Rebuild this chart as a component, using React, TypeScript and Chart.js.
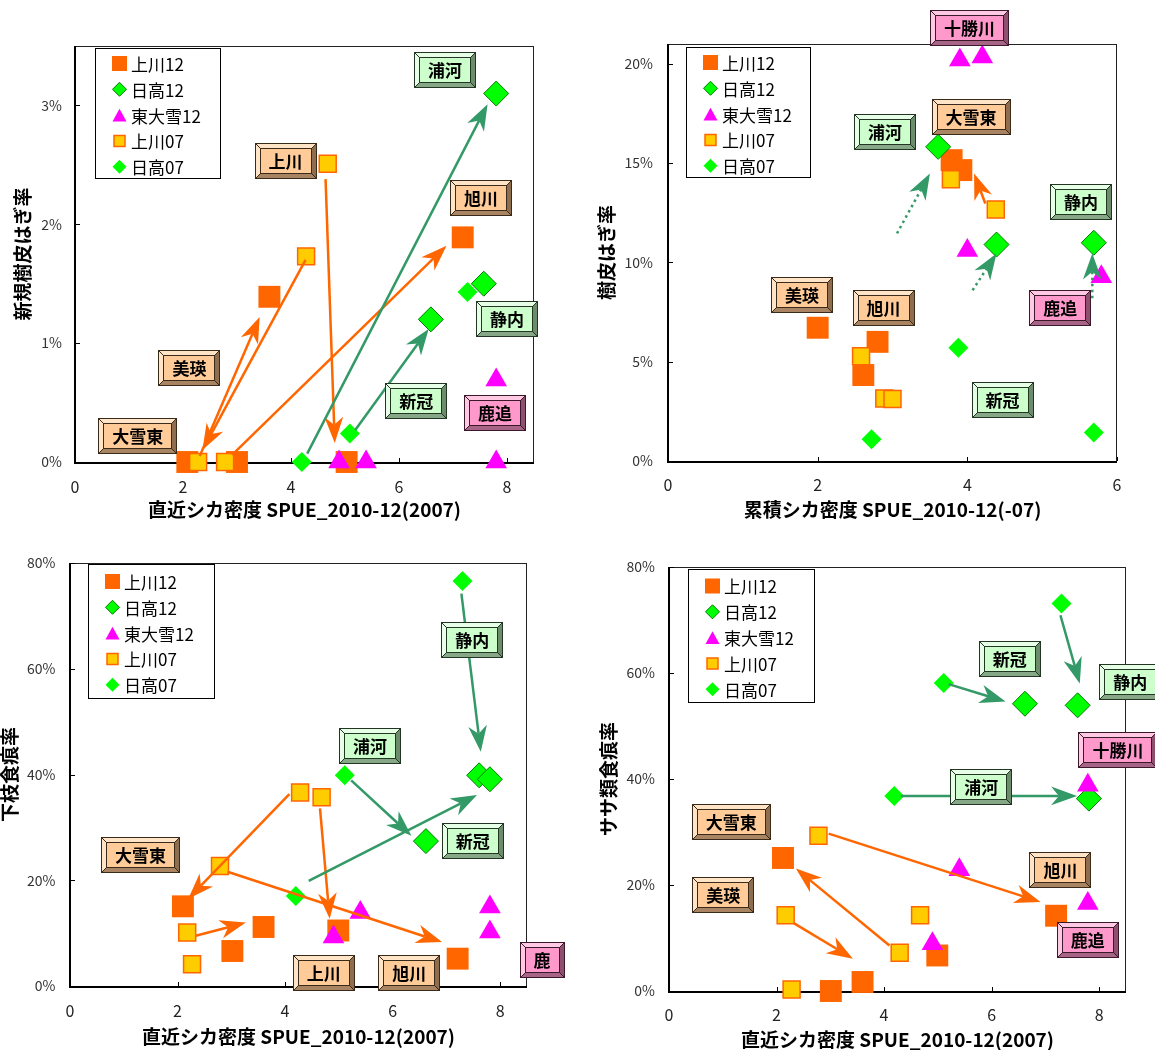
import React, { useEffect, useRef } from 'react';
import { Chart, registerables } from 'chart.js';

Chart.register(...registerables);

const FONT = "'Noto Sans CJK JP', 'Noto Sans', sans-serif";

type XY = [number, number];
type Seg = [number, number, number, number];
type Label = [string, 'o' | 'g' | 'p', number, number];

// ---------- series names ----------
const SERIES_NAMES = ['上川12', '日高12', '東大雪12', '上川07', '日高07'];

// ---------- ticks ----------
const X_TICKS_8 = [0, 2, 4, 6, 8];
const X_TICKS_6 = [0, 2, 4, 6];
const A_Y_TICKS = [0, 1, 2, 3];
const B_Y_TICKS = [0, 5, 10, 15, 20];
const CD_Y_TICKS = [0, 20, 40, 60, 80];

// ---------- Panel A : 新規樹皮はぎ率 (%) ----------
const A_KAMIKAWA12: XY[] = [[2.08, 0], [3.0, 0], [3.6, 1.39], [5.03, 0], [7.18, 1.89]];
const A_HIDAKA12: XY[] = [[7.8, 3.1], [7.57, 1.5], [6.59, 1.2]];
const A_HTAISETSU12: XY[] = [[4.89, 0], [5.39, 0], [7.8, 0.69], [7.8, 0]];
const A_KAMIKAWA07: XY[] = [[2.28, 0], [2.78, 0], [4.28, 1.73], [4.68, 2.51]];
const A_HIDAKA07: XY[] = [[4.2, 0], [5.09, 0.24], [7.27, 1.43]];
const A_ORANGE_ARROWS: Seg[] = [[4.64, 2.38, 4.81, 0.16], [4.27, 1.7, 2.36, 0.1], [2.31, 0.05, 3.42, 1.22], [2.91, 0.06, 6.88, 1.82]];
const A_GREEN_ARROWS: Seg[] = [[4.3, 0.07, 7.64, 3.01], [5.19, 0.27, 6.55, 1.12]];
const A_LABELS: Label[] = [
  ['浦河', 'g', 6.85, 3.3], ['上川', 'o', 3.9, 2.53], ['旭川', 'o', 7.52, 2.22], ['静内', 'g', 8.0, 1.2],
  ['美瑛', 'o', 2.12, 0.79], ['新冠', 'g', 6.32, 0.51], ['鹿追', 'p', 7.78, 0.41], ['大雪東', 'o', 1.16, 0.22],
];

// ---------- Panel B : 樹皮はぎ率 (%) ----------
const B_KAMIKAWA12: XY[] = [[3.79, 15.15], [3.92, 14.65], [2.0, 6.71], [2.8, 6.0], [2.61, 4.33]];
const B_HIDAKA12: XY[] = [[3.61, 15.82], [4.39, 10.9], [5.69, 10.99]];
const B_HTAISETSU12: XY[] = [[3.9, 20.2], [4.2, 20.35], [4.0, 10.6], [5.79, 9.28]];
const B_KAMIKAWA07: XY[] = [[3.78, 14.19], [4.38, 12.67], [2.58, 5.28], [2.89, 3.15], [3.0, 3.12]];
const B_HIDAKA07: XY[] = [[3.88, 5.7], [2.72, 1.1], [5.69, 1.44]];
const B_ORANGE_ARROWS: Seg[] = [[4.24, 12.97, 4.09, 14.48]];
const B_GREEN_DOTTED_ARROWS: Seg[] = [[3.06, 11.46, 3.5, 14.48], [4.07, 8.6, 4.39, 10.45], [5.67, 8.19, 5.67, 10.45]];
const B_LABELS: Label[] = [
  ['十勝川', 'p', 4.03, 21.8], ['大雪東', 'o', 4.05, 17.33], ['浦河', 'g', 2.9, 16.58], ['静内', 'g', 5.52, 13.02],
  ['美瑛', 'o', 1.79, 8.36], ['旭川', 'o', 2.88, 7.73], ['鹿追', 'p', 5.24, 7.73], ['新冠', 'g', 4.47, 3.07],
];

// ---------- Panel C : 下枝食痕率 (%) ----------
const C_KAMIKAWA12: XY[] = [[2.1, 15.07], [3.6, 11.16], [3.02, 6.62], [4.99, 10.5], [7.21, 5.17]];
const C_HIDAKA12: XY[] = [[7.61, 39.85], [7.81, 39.1], [6.62, 27.4]];
const C_HTAISETSU12: XY[] = [[4.9, 9.27], [5.4, 13.9], [7.81, 14.95], [7.81, 10.2]];
const C_KAMIKAWA07: XY[] = [[4.28, 36.6], [4.68, 35.7], [2.79, 22.7], [2.18, 10.1], [2.27, 4.1]];
const C_HIDAKA07: XY[] = [[7.3, 76.6], [5.11, 39.85], [4.2, 17.0]];
const C_ORANGE_ARROWS: Seg[] = [[4.08, 36.3, 2.2, 16.5], [4.65, 33.6, 4.83, 12.7], [2.93, 21.6, 6.92, 8.3], [2.34, 9.5, 3.27, 12.0]];
const C_GREEN_ARROWS: Seg[] = [[7.28, 74.2, 7.64, 44.3], [5.23, 38.9, 6.35, 28.4], [4.44, 19.9, 7.57, 36.1]];
const C_LABELS: Label[] = [
  ['静内', 'g', 7.48, 65.4], ['浦河', 'g', 5.58, 45.4], ['新冠', 'g', 7.49, 27.4], ['大雪東', 'o', 1.31, 24.7],
  ['上川', 'o', 4.72, 2.5], ['旭川', 'o', 6.31, 2.5], ['鹿', 'p', 8.78, 4.9],
];

// ---------- Panel D : ササ類食痕率 (%) ----------
const D_KAMIKAWA12: XY[] = [[2.12, 25.1], [3.01, 0], [3.6, 1.7], [4.99, 6.7], [7.2, 14.2]];
const D_HIDAKA12: XY[] = [[6.62, 54.2], [7.6, 53.9], [7.81, 36.3]];
const D_HTAISETSU12: XY[] = [[5.4, 22.9], [4.9, 8.9], [7.79, 38.8], [7.79, 16.5]];
const D_KAMIKAWA07: XY[] = [[2.78, 29.3], [2.17, 14.3], [2.28, 0.3], [4.29, 7.2], [4.67, 14.3]];
const D_HIDAKA07: XY[] = [[5.11, 58.1], [7.3, 73.1], [4.19, 36.8]];
const D_ORANGE_ARROWS: Seg[] = [[2.97, 29.7, 6.91, 16.8], [4.1, 8.6, 2.36, 23.1], [2.32, 12.8, 3.42, 6.1]];
const D_GREEN_ARROWS: Seg[] = [[5.2, 57.9, 6.26, 54.6], [7.28, 70.9, 7.64, 58.0], [4.31, 36.8, 7.59, 36.8]];
const D_LABELS: Label[] = [
  ['新冠', 'g', 6.34, 62.7], ['静内', 'g', 8.58, 58.3], ['十勝川', 'p', 8.35, 45.4], ['浦河', 'g', 5.81, 38.5],
  ['大雪東', 'o', 1.16, 31.9], ['美瑛', 'o', 1.01, 18.1], ['旭川', 'o', 7.28, 22.8], ['鹿追', 'p', 7.79, 9.6],
];

// ---------- styles ----------
const SERIES_STYLE = [
  { pointStyle: 'rect', radius: 15.5, bg: '#FF6600', border: '#FF6600', bw: 0, legendSize: 15 },
  { pointStyle: 'rectRot', radius: 12.5, bg: '#00FF00', border: '#007A00', bw: 1, legendSize: 14 },
  { pointStyle: 'triangle', radius: 12.5, bg: '#FF00FF', border: '#FF00FF', bw: 0, legendSize: 14 },
  { pointStyle: 'rect', radius: 12, bg: '#FFCC00', border: '#FF6600', bw: 1.5, legendSize: 11 },
  { pointStyle: 'rectRot', radius: 10, bg: '#00FF00', border: '#00FF00', bw: 0, legendSize: 14 },
];
const ORANGE = '#FF6600';
const GREEN = '#339966';
const LABEL_STYLE: Record<string, { face: string; light: string; dark: string; mid: string; edge: string }> = {
  o: { face: '#FFCC99', light: '#FFE4C8', dark: '#8F6E50', mid: '#A88462', edge: '#3A2A1A' },
  g: { face: '#CCFFCC', light: '#E6FFE6', dark: '#6C8C6C', mid: '#86A886', edge: '#233623' },
  p: { face: '#FF99CC', light: '#FFC8E3', dark: '#8F5070', mid: '#A86486', edge: '#3A1A2A' },
};

interface PanelCfg {
  key: string;
  box: { left: number; top: number; width: number; height: number };
  yWidth: number; xHeight: number; padTop: number; padRight: number;
  xMax: number; yMax: number; xTicks: number[]; yTicks: number[];
  xTitle: string; yTitle: string; xTitlePad: number; yTitlePad: number; xTickPad: number; yTickPad: number;
  series: XY[][];
  orange: Seg[]; green: Seg[]; greenDotted: Seg[]; labels: Label[];
  legend: { dx: number; dy: number; w: number; h: number };
}

const X_TITLE_RECENT = '直近シカ密度 SPUE_2010-12(2007)';

const PANELS: PanelCfg[] = [
  {
    key: 'A', box: { left: 0, top: 0, width: 578, height: 528 }, yWidth: 75, xHeight: 66, padTop: 46, padRight: 44,
    xMax: 8.5, yMax: 3.5, xTicks: X_TICKS_8, yTicks: A_Y_TICKS,
    xTitle: X_TITLE_RECENT, yTitle: '新規樹皮はぎ率', xTitlePad: 8.5, yTitlePad: 13.5, xTickPad: 17, yTickPad: 13,
    series: [A_KAMIKAWA12, A_HIDAKA12, A_HTAISETSU12, A_KAMIKAWA07, A_HIDAKA07],
    orange: A_ORANGE_ARROWS, green: A_GREEN_ARROWS, greenDotted: [], labels: A_LABELS,
    legend: { dx: 20, dy: 2, w: 125, h: 130 },
  },
  {
    key: 'B', box: { left: 578, top: 0, width: 577, height: 528 }, yWidth: 90, xHeight: 67, padTop: 44, padRight: 38,
    xMax: 6, yMax: 21, xTicks: X_TICKS_6, yTicks: B_Y_TICKS,
    xTitle: '累積シカ密度 SPUE_2010-12(-07)', yTitle: '樹皮はぎ率', xTitlePad: 8.5, yTitlePad: 19.5, xTickPad: 16, yTickPad: 15,
    series: [B_KAMIKAWA12, B_HIDAKA12, B_HTAISETSU12, B_KAMIKAWA07, B_HIDAKA07],
    orange: B_ORANGE_ARROWS, green: [], greenDotted: B_GREEN_DOTTED_ARROWS, labels: B_LABELS,
    legend: { dx: 18, dy: 3, w: 124, h: 130 },
  },
  {
    key: 'C', box: { left: 0, top: 528, width: 568, height: 522 }, yWidth: 70, xHeight: 64, padTop: 35, padRight: 41,
    xMax: 8.5, yMax: 80, xTicks: X_TICKS_8, yTicks: CD_Y_TICKS,
    xTitle: X_TITLE_RECENT, yTitle: '下枝食痕率', xTitlePad: 3.5, yTitlePad: 0.5, xTickPad: 16.5, yTickPad: 14.5,
    series: [C_KAMIKAWA12, C_HIDAKA12, C_HTAISETSU12, C_KAMIKAWA07, C_HIDAKA07],
    orange: C_ORANGE_ARROWS, green: C_GREEN_ARROWS, greenDotted: [], labels: C_LABELS,
    legend: { dx: 18, dy: 1, w: 126, h: 134 },
  },
  {
    key: 'D', box: { left: 578, top: 528, width: 577, height: 522 }, yWidth: 91, xHeight: 59, padTop: 39, padRight: 29,
    xMax: 8.5, yMax: 80, xTicks: X_TICKS_8, yTicks: CD_Y_TICKS,
    xTitle: X_TITLE_RECENT, yTitle: 'ササ類食痕率', xTitlePad: 0.5, yTitlePad: 21.5, xTickPad: 16, yTickPad: 14,
    series: [D_KAMIKAWA12, D_HIDAKA12, D_HTAISETSU12, D_KAMIKAWA07, D_HIDAKA07],
    orange: D_ORANGE_ARROWS, green: D_GREEN_ARROWS, greenDotted: [], labels: D_LABELS,
    legend: { dx: 19, dy: 2, w: 126, h: 133 },
  },
];

// ---------- drawing helpers ----------
function drawArrow(ctx: CanvasRenderingContext2D, x1: number, y1: number, x2: number, y2: number, color: string, dotted: boolean) {
  const dx = x2 - x1, dy = y2 - y1;
  const len = Math.hypot(dx, dy);
  if (len < 1) return;
  const ux = dx / len, uy = dy / len;
  const nx = -uy, ny = ux;
  const L = Math.min(26, len * 0.92);
  const W = L * 0.36;
  const notch = L * 0.7;
  ctx.save();
  ctx.strokeStyle = color;
  ctx.lineWidth = 2.5;
  ctx.lineCap = 'butt';
  if (dotted) ctx.setLineDash([2.5, 3.5]);
  ctx.beginPath();
  ctx.moveTo(x1, y1);
  ctx.lineTo(x2 - ux * notch, y2 - uy * notch);
  ctx.stroke();
  ctx.setLineDash([]);
  ctx.fillStyle = color;
  ctx.beginPath();
  ctx.moveTo(x2, y2);
  ctx.lineTo(x2 - ux * L + nx * W, y2 - uy * L + ny * W);
  ctx.lineTo(x2 - ux * notch, y2 - uy * notch);
  ctx.lineTo(x2 - ux * L - nx * W, y2 - uy * L - ny * W);
  ctx.closePath();
  ctx.fill();
  ctx.restore();
}

function poly(ctx: CanvasRenderingContext2D, pts: number[][], fill: string) {
  ctx.beginPath();
  ctx.moveTo(pts[0][0], pts[0][1]);
  for (let i = 1; i < pts.length; i++) ctx.lineTo(pts[i][0], pts[i][1]);
  ctx.closePath();
  ctx.fillStyle = fill;
  ctx.fill();
}

function drawLabel(ctx: CanvasRenderingContext2D, cx: number, cy: number, text: string, kind: string) {
  const st = LABEL_STYLE[kind];
  ctx.save();
  ctx.font = `bold 17px ${FONT}`;
  const tw = ctx.measureText(text).width;
  const w = Math.round(tw + 28);
  const h = 36;
  const b = 5;
  const x0 = Math.round(cx - w / 2), y0 = Math.round(cy - h / 2);
  ctx.fillStyle = st.face;
  ctx.fillRect(x0, y0, w, h);
  poly(ctx, [[x0, y0], [x0 + w, y0], [x0 + w - b, y0 + b], [x0 + b, y0 + b]], st.light);
  poly(ctx, [[x0, y0], [x0 + b, y0 + b], [x0 + b, y0 + h - b], [x0, y0 + h]], st.light);
  poly(ctx, [[x0, y0 + h], [x0 + b, y0 + h - b], [x0 + w - b, y0 + h - b], [x0 + w, y0 + h]], st.mid);
  poly(ctx, [[x0 + w, y0], [x0 + w, y0 + h], [x0 + w - b, y0 + h - b], [x0 + w - b, y0 + b]], st.dark);
  ctx.strokeStyle = st.edge;
  ctx.lineWidth = 1;
  ctx.beginPath();
  ctx.moveTo(x0 + 0.5, y0 + 0.5); ctx.lineTo(x0 + b + 0.5, y0 + b + 0.5);
  ctx.moveTo(x0 + w - 0.5, y0 + 0.5); ctx.lineTo(x0 + w - b - 0.5, y0 + b + 0.5);
  ctx.moveTo(x0 + 0.5, y0 + h - 0.5); ctx.lineTo(x0 + b + 0.5, y0 + h - b - 0.5);
  ctx.moveTo(x0 + w - 0.5, y0 + h - 0.5); ctx.lineTo(x0 + w - b - 0.5, y0 + h - b - 0.5);
  ctx.stroke();
  ctx.strokeRect(x0 + b + 0.5, y0 + b + 0.5, w - 2 * b - 1, h - 2 * b - 1);
  ctx.strokeRect(x0 + 0.5, y0 + 0.5, w - 1, h - 1);
  ctx.fillStyle = '#000';
  ctx.textAlign = 'center';
  ctx.textBaseline = 'middle';
  ctx.fillText(text, cx, y0 + h / 2 + 1);
  ctx.restore();
}

function drawShape(ctx: CanvasRenderingContext2D, style: string, x: number, y: number, size: number, fill: string, stroke: string, lw: number) {
  ctx.beginPath();
  const s = size / 2;
  if (style === 'rect') {
    ctx.rect(x - s, y - s, size, size);
  } else if (style === 'rectRot') {
    ctx.moveTo(x, y - s); ctx.lineTo(x + s, y); ctx.lineTo(x, y + s); ctx.lineTo(x - s, y); ctx.closePath();
  } else {
    const hh = size * 0.45;
    ctx.moveTo(x, y - hh); ctx.lineTo(x + s, y + hh); ctx.lineTo(x - s, y + hh); ctx.closePath();
  }
  ctx.fillStyle = fill;
  ctx.fill();
  if (lw > 0) {
    ctx.lineWidth = lw;
    ctx.strokeStyle = stroke;
    ctx.stroke();
  }
}

function buildConfig(cfg: PanelCfg): any {
  const decor = {
    id: 'decor' + cfg.key,
    beforeDatasetsDraw(chart: any) {
      const { ctx, chartArea } = chart;
      const { left, top, right, bottom } = chartArea;
      const xs = chart.scales.x, ys = chart.scales.y;
      ctx.save();
      ctx.strokeStyle = '#222';
      ctx.lineWidth = 1;
      ctx.strokeRect(left + 0.5, top + 0.5, right - left - 1, bottom - top);
      ctx.strokeStyle = '#000';
      ctx.lineWidth = 2;
      ctx.beginPath();
      ctx.moveTo(left, top);
      ctx.lineTo(left, bottom + 1);
      ctx.lineTo(right, bottom + 1);
      ctx.stroke();
      ctx.lineWidth = 1;
      ctx.beginPath();
      cfg.xTicks.forEach((v) => {
        const px = Math.round(xs.getPixelForValue(v)) + 0.5;
        ctx.moveTo(px, bottom);
        ctx.lineTo(px, bottom - 4);
      });
      cfg.yTicks.forEach((v) => {
        const py = Math.round(ys.getPixelForValue(v)) + 0.5;
        ctx.moveTo(left, py);
        ctx.lineTo(left + 5, py);
      });
      ctx.stroke();
      ctx.restore();
    },
    afterDatasetsDraw(chart: any) {
      const { ctx, chartArea } = chart;
      const xs = chart.scales.x, ys = chart.scales.y;
      const P = (x: number, y: number) => [xs.getPixelForValue(x), ys.getPixelForValue(y)];
      const arrows = (list: Seg[], color: string, dotted: boolean) =>
        list.forEach(([a, b, c, d]) => {
          const [x1, y1] = P(a, b);
          const [x2, y2] = P(c, d);
          drawArrow(ctx, x1, y1, x2, y2, color, dotted);
        });
      arrows(cfg.orange, ORANGE, false);
      arrows(cfg.green, GREEN, false);
      arrows(cfg.greenDotted, GREEN, true);
      cfg.labels.forEach(([text, kind, x, y]) => {
        const [px, py] = P(x, y);
        drawLabel(ctx, px, py, text, kind);
      });
      // legend
      const lg = cfg.legend;
      const lx = chartArea.left + lg.dx, ly = chartArea.top + lg.dy;
      ctx.save();
      ctx.fillStyle = '#fff';
      ctx.fillRect(lx, ly, lg.w, lg.h);
      ctx.strokeStyle = '#000';
      ctx.lineWidth = 1;
      ctx.strokeRect(lx + 0.5, ly + 0.5, lg.w, lg.h);
      const first = 15.5 + (lg.h - 130) / 2;
      chart.data.datasets.forEach((ds: any, i: number) => {
        const st = SERIES_STYLE[i];
        const cy = ly + first + i * 25.8;
        drawShape(ctx, st.pointStyle, lx + 24.5, cy, st.legendSize, st.bg, st.border, st.bw);
        ctx.fillStyle = '#000';
        ctx.font = `17px ${FONT}`;
        ctx.textAlign = 'left';
        ctx.textBaseline = 'middle';
        ctx.fillText(ds.label, lx + 36, cy + 1);
      });
      ctx.restore();
    },
  };

  const datasets = cfg.series.map((pts, i) => {
    const st = SERIES_STYLE[i];
    return {
      label: SERIES_NAMES[i],
      data: pts.map(([x, y]) => ({ x, y })),
      pointStyle: st.pointStyle,
      pointRadius: st.radius,
      pointHoverRadius: st.radius,
      backgroundColor: st.bg,
      borderColor: st.border,
      borderWidth: st.bw,
      pointBorderWidth: st.bw,
      showLine: false,
      clip: false,
      order: SERIES_NAMES.length - i,
    };
  });

  return {
    type: 'scatter',
    data: { datasets },
    options: {
      animation: false,
      responsive: false,
      maintainAspectRatio: false,
      devicePixelRatio: 1,
      events: [],
      layout: { padding: { left: 0, top: cfg.padTop, right: cfg.padRight, bottom: 0 } },
      plugins: { legend: { display: false }, tooltip: { enabled: false }, title: { display: false } },
      scales: {
        x: {
          type: 'linear',
          min: 0,
          max: cfg.xMax,
          afterBuildTicks: (s: any) => { s.ticks = cfg.xTicks.map((v) => ({ value: v })); },
          afterFit: (s: any) => { s.height = cfg.xHeight; },
          grid: { display: false, drawTicks: false },
          border: { display: false },
          ticks: {
            autoSkip: false, maxRotation: 0, padding: cfg.xTickPad, color: '#222',
            font: { family: FONT, size: 16, lineHeight: 1 },
            callback: (v: any) => String(v),
          },
          title: {
            display: true, text: cfg.xTitle, color: '#000',
            font: { family: FONT, size: 19, weight: 'bold', lineHeight: 1 },
            padding: { top: 0, bottom: cfg.xTitlePad },
          },
        },
        y: {
          type: 'linear',
          min: 0,
          max: cfg.yMax,
          afterBuildTicks: (s: any) => { s.ticks = cfg.yTicks.map((v) => ({ value: v })); },
          afterFit: (s: any) => { s.width = cfg.yWidth; },
          grid: { display: false, drawTicks: false },
          border: { display: false },
          ticks: {
            autoSkip: false, padding: cfg.yTickPad, color: '#333',
            font: { family: FONT, size: 14, lineHeight: 1 },
            callback: (v: any) => `${v}%`,
          },
          title: {
            display: true, text: cfg.yTitle, color: '#000',
            font: { family: FONT, size: 19, weight: 'bold', lineHeight: 1 },
            padding: { top: cfg.yTitlePad, bottom: 0 },
          },
        },
      },
    },
    plugins: [decor],
  };
}

function Panel({ cfg }: { cfg: PanelCfg }) {
  const ref = useRef<HTMLCanvasElement>(null);
  useEffect(() => {
    if (!ref.current) return;
    const chart = new Chart(ref.current, buildConfig(cfg));
    return () => chart.destroy();
  }, [cfg]);
  const { left, top, width, height } = cfg.box;
  return (
    <canvas
      ref={ref}
      width={width}
      height={height}
      style={{ position: 'absolute', left, top, width, height }}
    />
  );
}

export default function App() {
  return (
    <div style={{ position: 'absolute', left: 0, top: 0, width: 1155, height: 1050, background: '#fff', overflow: 'hidden' }}>
      {PANELS.map((p) => (
        <Panel key={p.key} cfg={p} />
      ))}
    </div>
  );
}
